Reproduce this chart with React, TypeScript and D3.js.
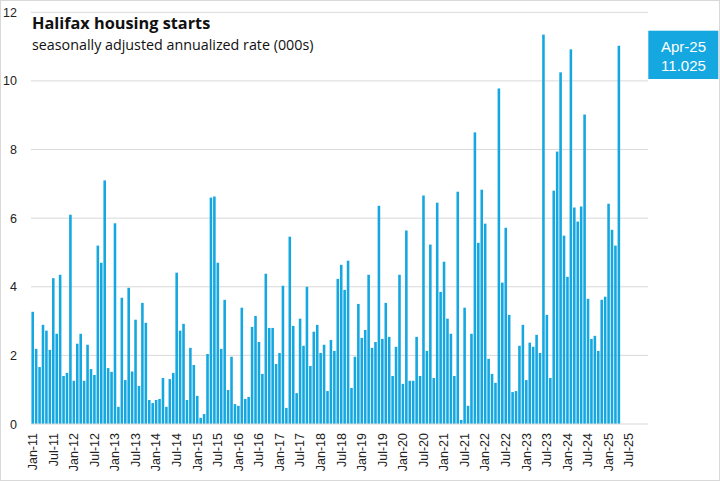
import React from "react";
import * as d3 from "d3";

const START_YEAR = 2011;
const LAST_MONTH_INDEX = 179; // Dec-25 (axis extends past last data point)

const housingStarts: number[] = [
  // 2011
  3.27, 2.19, 1.66, 2.89, 2.72, 2.16, 4.25, 2.63, 4.35, 1.4, 1.49, 6.1,
  // 2012
  1.26, 2.34, 2.63, 1.26, 2.31, 1.6, 1.43, 5.2, 4.7, 7.1, 1.63, 1.52,
  // 2013
  5.85, 0.5, 3.68, 1.28, 3.97, 1.53, 3.04, 1.11, 3.53, 2.95, 0.7, 0.61,
  // 2014
  0.7, 0.73, 1.34, 0.5, 1.31, 1.49, 4.41, 2.72, 2.92, 0.7, 2.22, 1.72,
  // 2015
  0.82, 0.18, 0.29, 2.04, 6.6, 6.63, 4.7, 2.19, 3.62, 0.99, 1.96, 0.58,
  // 2016
  0.53, 3.39, 0.73, 0.79, 2.83, 3.15, 2.39, 1.46, 4.38, 2.8, 2.8, 1.75,
  // 2017
  2.07, 4.03, 0.47, 5.46, 2.86, 0.9, 3.07, 2.28, 4.0, 1.69, 2.69, 2.89,
  // 2018
  2.07, 2.31, 0.96, 2.45, 2.13, 4.23, 4.64, 3.91, 4.76, 1.05, 1.96, 3.5,
  // 2019
  2.51, 2.74, 4.35, 2.22, 2.39, 6.36, 2.48, 3.53, 2.54, 1.4, 2.25, 4.35,
  // 2020
  1.17, 5.64, 1.26, 1.26, 2.54, 1.4, 6.66, 2.13, 5.23, 1.34, 6.45, 3.85,
  // 2021
  4.73, 3.07, 2.63, 1.4, 6.77, 0.12, 3.39, 0.53, 2.63, 8.5, 5.28, 6.83,
  // 2022
  5.84, 1.9, 1.46, 1.2, 9.78, 4.12, 5.72, 3.18, 0.93, 0.96, 2.28, 2.89,
  // 2023
  1.28, 2.37, 2.25, 2.6, 2.07, 11.35, 3.18, 1.34, 6.8, 7.94, 10.25, 5.49,
  // 2024
  4.29, 10.92, 6.31, 5.9, 6.34, 9.02, 3.65, 2.48, 2.57, 2.13, 3.62, 3.71,
  // 2025
  6.42, 5.66, 5.2, 11.025,
];

const tickLabels: string[] = [
  "Jan-11", "Jul-11", "Jan-12", "Jul-12", "Jan-13", "Jul-13", "Jan-14", "Jul-14",
  "Jan-15", "Jul-15", "Jan-16", "Jul-16", "Jan-17", "Jul-17", "Jan-18", "Jul-18",
  "Jan-19", "Jul-19", "Jan-20", "Jul-20", "Jan-21", "Jul-21", "Jan-22", "Jul-22",
  "Jan-23", "Jul-23", "Jan-24", "Jul-24", "Jan-25", "Jul-25",
];

const yTicks: number[] = [0, 2, 4, 6, 8, 10, 12];

const titleText = "Halifax housing starts";
const subtitleText = "seasonally adjusted annualized rate (000s)";
const calloutLabel = "Apr-25";
const calloutValue = "11.025";

const MONTHS = ["Jan", "Feb", "Mar", "Apr", "May", "Jun", "Jul", "Aug", "Sep", "Oct", "Nov", "Dec"];
const monthLabel = (i: number) =>
  `${MONTHS[i % 12]}-${String((START_YEAR + Math.floor(i / 12)) % 100).padStart(2, "0")}`;
const categories: string[] = d3.range(LAST_MONTH_INDEX + 1).map(monthLabel);

const W = 720;
const H = 481;
const M = { left: 31, right: 648, top: 12.3, bottom: 424 };
const BAR = "#15a7e0";
const GRID = "#d9d9d9";
const AXIS_FONT = "'Liberation Sans', Arial, sans-serif";
const TITLE_FONT = "'Open Sans', 'Noto Sans', sans-serif";

export default function App() {
  const x = d3.scaleBand<string>().domain(categories).range([M.left, M.right]).paddingInner(0.25).paddingOuter(0.125);
  const y = d3.scaleLinear().domain([0, 12]).range([M.bottom, M.top]);
  const bars = housingStarts.map((v, i) => ({ cat: categories[i], v }));
  const center = (c: string) => (x(c) ?? 0) + x.bandwidth() / 2;

  return (
    <svg width={W} height={H} style={{ position: "absolute", left: 0, top: 0, background: "#fff" }}>
      <rect x={0.5} y={0.5} width={W - 1} height={H - 1} fill="#fff" stroke="#d9d9d9" />
      {yTicks.map((t) => (
        <g key={t}>
          {t > 0 && <line x1={M.left} x2={M.right} y1={y(t)} y2={y(t)} stroke={GRID} strokeWidth={1} />}
          <text x={17} y={y(t)} dy="0.36em" textAnchor="end" fontFamily={AXIS_FONT} fontSize={12.5} fill="#222">
            {t}
          </text>
        </g>
      ))}
      {bars.map((d) => (
        <rect key={d.cat} x={x(d.cat)} y={y(d.v)} width={x.bandwidth()} height={y(0) - y(d.v)} fill={BAR} />
      ))}
      <line x1={M.left} x2={M.right} y1={y(0)} y2={y(0)} stroke={GRID} strokeWidth={1} />
      {tickLabels.map((lab) => (
        <text
          key={lab}
          transform={`translate(${center(lab) + 4.3},${y(0) + 9}) rotate(-90)`}
          textAnchor="end"
          fontFamily={AXIS_FONT}
          fontSize={12.5}
          fill="#222"
        >
          {lab}
        </text>
      ))}
      <text x={32} y={29.3} fontFamily={TITLE_FONT} fontWeight={700} fontSize={16.3} fill="#111">
        {titleText}
      </text>
      <text x={32} y={50} fontFamily={TITLE_FONT} fontSize={14.3} fill="#111">
        {subtitleText}
      </text>
      <rect x={648.3} y={30.7} width={70} height={48.3} fill={BAR} />
      <text x={683.5} y={51.7} textAnchor="middle" fontFamily={AXIS_FONT} fontSize={15} fill="#fff">
        {calloutLabel}
      </text>
      <text x={683.5} y={71} textAnchor="middle" fontFamily={AXIS_FONT} fontSize={15} fill="#fff">
        {calloutValue}
      </text>
    </svg>
  );
}
